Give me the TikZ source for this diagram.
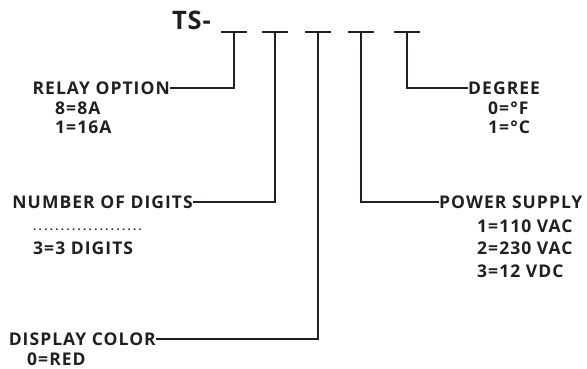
\documentclass[tikz,border=0pt]{standalone}
\usepackage{fontspec}
\setmainfont{Open Sans}
\usetikzlibrary{positioning}
\definecolor{ink}{HTML}{231F20}
\begin{document}
\begin{tikzpicture}[x=1pt,y=-1pt,every node/.style={font=\bfseries\fontsize{17.5}{20}\selectfont\addfontfeature{LetterSpace=6},text=ink,inner sep=0pt},lbl/.style={anchor=east},rlbl/.style={anchor=west},val/.style={anchor=west},ln/.style={draw=ink,line width=2pt}]
\useasboundingbox (0,0) rectangle (587,369);
\node[anchor=west,font=\bfseries\fontsize{25.5}{30}\selectfont\addfontfeature{LetterSpace=3}] (ts) at (172,20) {TS-};
\foreach \x/\n in {234/t1,275/t2,318/t3,361/t4,407/t5}{
\draw[ln] (\x-13,32) -- (\x+13,32); \coordinate (\n) at (\x,32);}
% labels on the left
\node[lbl] (relay) at (170,88) {RELAY OPTION};
\node[val] (r1) at (55,108) {8=8A};
\node[val] (r2) at (55,127) {1=16A};
\node[lbl] (digits) at (193,202) {NUMBER OF DIGITS};
\node[val,font=\bfseries\fontsize{11}{13}\selectfont\addfontfeature{LetterSpace=22}] (d1) at (33,230) {....................};
\node[val] (d2) at (33,248) {3=3 DIGITS};
\node[lbl] (color) at (156,339) {DISPLAY COLOR};
\node[val] (c1) at (27,359) {0=RED};
% labels on the right
\node[rlbl] (degree) at (468,88) {DEGREE};
\node[val] (g1) at (488,108) {0=°F};
\node[val] (g2) at (488,127) {1=°C};
\node[rlbl] (power) at (439,202) {POWER SUPPLY};
\node[val] (p1) at (477,226) {1=110 VAC};
\node[val] (p2) at (477,248) {2=230 VAC};
\node[val] (p3) at (477,271) {3=12 VDC};
\draw[ln] (t1) |- (relay.east);\draw[ln] (t2) |- (digits.east);\draw[ln] (t3) |- (color.east);
\draw[ln] (t4) |- (power.west);\draw[ln] (t5) |- (degree.west);
\end{tikzpicture}
\end{document}
